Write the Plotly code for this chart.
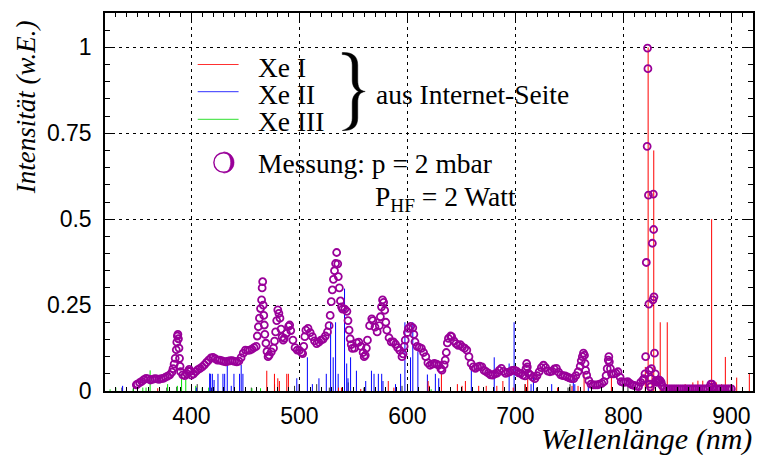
import plotly.graph_objects as go

# ---------------- data ----------------
xe1_nm = [368.8, 469.8, 476.9, 480.0, 481.5, 488.3, 489.8, 500.0, 536.2, 539.0, 556.8, 582.3, 587.5,
          619.2, 620.4, 631.5, 646.3, 650.6, 653.7, 666.0, 673.0, 682.8, 688.4, 698.0, 709.3, 711.4,
          739.0, 752.4, 758.0, 763.6, 788.9, 820.3, 822.9, 826.5, 828.1, 834.1, 840.6, 847.7, 857.2,
          864.3, 869.0, 873.5, 881.7, 886.0, 891.0, 894.4, 899.6, 904.9, 916.6]
xe1_int = [0.008, 0.059, 0.05, 0.037, 0.029, 0.05, 0.05, 0.02, 0.01, 0.01, 0.006, 0.029, 0.01,
           0.029, 0.015, 0.05, 0.02, 0.015, 0.029, 0.015, 0.015, 0.015, 0.029, 0.01, 0.02, 0.037,
           0.01, 0.015, 0.015, 0.05, 0.045, 0.07, 1.0, 0.05, 0.70, 0.2, 0.2, 0.015, 0.02,
           0.025, 0.03, 0.03, 0.5, 0.025, 0.02, 0.099, 0.02, 0.039, 0.051]

xe2_nm = [336.3, 404.6, 416.9, 417.8, 419.4, 421.0, 424.6, 429.2, 430.8, 433.2, 436.9, 439.4, 444.6,
          446.1, 447.7, 497.6, 499.7, 507.4, 512.0, 518.1, 524.9, 528.9, 531.3, 533.5, 535.9, 541.8,
          543.8, 545.0, 547.4, 552.8, 561.4, 566.7, 569.1, 573.1, 576.2, 577.4, 589.0, 593.7, 597.7,
          602.9, 605.0, 609.7, 618.5, 625.9, 629.0, 659.2, 680.4, 694.2, 698.8, 714.5, 716.7, 733.6,
          753.6, 755.0, 767.5]
xe2_int = [0.015, 0.01, 0.051, 0.05, 0.05, 0.032, 0.05, 0.05, 0.05, 0.098, 0.015, 0.05, 0.05,
           0.076, 0.05, 0.037, 0.02, 0.098, 0.02, 0.037, 0.05, 0.2, 0.098, 0.2, 0.05, 0.298,
           0.08, 0.037, 0.098, 0.059, 0.029, 0.059, 0.05, 0.05, 0.05, 0.029, 0.02, 0.05, 0.2,
           0.098, 0.2, 0.115, 0.048, 0.05, 0.037, 0.07, 0.098, 0.08, 0.2, 0.02, 0.048, 0.02,
           0.037, 0.02, 0.015]

xe3_nm = [324.7, 330.0, 346.0, 355.0, 358.0, 361.8, 378.0, 387.0, 390.9, 394.8, 404.0, 410.0, 416.0,
          456.0, 464.0, 620.5, 622.0]
xe3_int = [0.005, 0.01, 0.007, 0.01, 0.01, 0.06, 0.02, 0.015, 0.044, 0.032, 0.015, 0.01, 0.01,
           0.008, 0.008, 0.005, 0.005]

other_nm = [335.6, 346.4, 377.2, 386.4, 405.4, 418.6, 455.5, 477.0, 495.5, 516.0, 527.7, 545.2,
            559.8, 595.0, 708.8, 719.5, 748.7, 750.6, 799.6, 804.2, 848.8]
other_int = [0.01, 0.01, 0.01, 0.012, 0.02, 0.01, 0.01, 0.02, 0.015, 0.02, 0.01, 0.025,
             0.01, 0.015, 0.02, 0.01, 0.01, 0.02, 0.02, 0.015, 0.005]

meas_nm = [349, 350, 352, 354, 356, 358, 360, 362, 364, 366, 368, 370, 372, 374, 376, 378, 380, 382,
           383, 384, 385, 386, 386.5, 387, 387.5, 388, 388.5, 389, 389.5, 390, 392, 394, 396, 397, 398,
           399, 400, 402, 404, 406, 408, 410, 412, 414, 416, 418, 420, 422, 424, 426, 428, 430, 432,
           434, 436, 438, 440, 442, 444, 446, 448, 450, 452, 454, 456, 458, 460, 461, 462, 463, 464,
           465, 465.5, 466, 466.5, 467, 467.5, 468, 469, 470, 471, 472, 474, 476, 477, 478, 479, 480,
           481, 482, 483, 484, 485, 486, 488, 490, 491, 492, 494, 496, 498, 500, 502, 503, 504, 505,
           506, 508, 510, 512, 514, 516, 518, 520, 522, 524, 526, 527.5, 528.5, 529.5, 530.5, 531.5,
           532.5, 533.5, 534.5, 535.5, 536, 537, 538, 539, 540, 542, 544, 545, 546, 547, 548, 549,
           551, 553, 555, 557, 559, 560, 561, 562, 563, 565, 567, 568, 570, 572, 574, 575, 576, 577,
           578, 579, 580, 581, 583, 585, 587, 589, 591, 593, 595, 596, 597, 598, 600, 601, 603, 605,
           606, 607, 609, 611, 613, 615, 617, 619, 621, 623, 625, 627, 629, 631, 632, 634, 635, 636,
           637, 638, 640, 641, 643, 645, 647, 649, 651, 653, 655, 657, 659, 661, 663, 665, 667, 669,
           671, 673, 675, 677, 679, 681, 683, 685, 687, 689, 691, 693, 695, 697, 699, 701, 703, 705,
           707, 709, 709.8, 710.4, 711, 712, 714, 716, 718, 720, 722, 724, 726, 728, 730, 732, 734,
           736, 738, 740, 742, 744, 746, 748, 750, 752, 754, 756, 758, 760, 761, 762, 763, 764, 764.5,
           765, 766, 768, 770, 772, 774, 776, 778, 780, 782, 784, 785, 786, 786.5, 787, 788, 789, 791,
           793, 795, 797, 798, 800, 802, 804, 806, 808, 810, 812, 814, 816, 818, 819, 820, 820.6,
           821.2, 822, 822.3, 822.7, 823.2, 823.6, 824, 824.5, 825, 825.5, 826, 826.8, 827.3, 827.7,
           828, 828.3, 828.8, 829.5, 830, 831, 832, 833, 834, 835, 836, 838, 840, 842, 844, 846, 848,
           850, 852, 854, 856, 858, 860, 862, 864, 866, 868, 870, 872, 874, 876, 878, 880, 881, 882,
           883, 884, 886, 888, 890, 892, 894, 896, 898, 900]
meas_int = [0.018, 0.02, 0.024, 0.028, 0.033, 0.037, 0.035, 0.032, 0.034, 0.036, 0.035, 0.034, 0.036,
            0.037, 0.04, 0.043, 0.047, 0.055,
            0.065, 0.078, 0.095, 0.12, 0.142, 0.16, 0.165, 0.152, 0.125, 0.095, 0.072, 0.056, 0.047,
            0.045, 0.05, 0.058, 0.063,
            0.057, 0.046, 0.05, 0.056, 0.062, 0.066, 0.07, 0.076, 0.083, 0.09, 0.096, 0.098, 0.094,
            0.09, 0.09, 0.088, 0.086, 0.085,
            0.087, 0.088, 0.088, 0.086, 0.085, 0.087, 0.097, 0.11, 0.119, 0.118, 0.119, 0.122, 0.126,
            0.13, 0.16, 0.187, 0.212, 0.24,
            0.265, 0.3, 0.318, 0.25, 0.22, 0.192, 0.165, 0.139, 0.115, 0.1, 0.104, 0.114, 0.125,
            0.145, 0.172, 0.205, 0.236,
            0.226, 0.212, 0.18, 0.157, 0.148, 0.153, 0.168, 0.188, 0.192, 0.176, 0.148, 0.126, 0.119,
            0.118, 0.112, 0.109, 0.13, 0.158,
            0.177, 0.182, 0.17, 0.158, 0.146, 0.138, 0.142, 0.148, 0.151, 0.16, 0.172, 0.19, 0.22,
            0.26, 0.294, 0.325,
            0.35, 0.371, 0.403, 0.37, 0.333, 0.3, 0.262, 0.245, 0.238, 0.238, 0.232, 0.205, 0.177,
            0.152, 0.135, 0.124,
            0.125, 0.14, 0.142, 0.13, 0.112, 0.1, 0.104, 0.125, 0.148, 0.19, 0.21, 0.205, 0.186,
            0.172, 0.19, 0.216, 0.245, 0.265,
            0.258, 0.235, 0.2, 0.177, 0.155, 0.143, 0.143, 0.136, 0.126, 0.118, 0.1, 0.108, 0.13,
            0.148, 0.17, 0.182, 0.188, 0.184,
            0.165, 0.143, 0.13, 0.127, 0.124, 0.112, 0.1, 0.082, 0.075, 0.078, 0.08, 0.078, 0.075,
            0.065, 0.061, 0.076, 0.09, 0.112,
            0.14, 0.153, 0.16, 0.158, 0.146, 0.138, 0.133, 0.135, 0.128, 0.125, 0.119, 0.1, 0.08,
            0.07, 0.066, 0.07, 0.072, 0.07,
            0.06, 0.056, 0.052, 0.047, 0.046, 0.05, 0.052, 0.06, 0.066, 0.057, 0.051, 0.054, 0.056,
            0.06, 0.061, 0.058, 0.053, 0.051,
            0.046, 0.044, 0.065, 0.08, 0.07, 0.052, 0.046, 0.04, 0.036, 0.045, 0.056, 0.068, 0.075,
            0.068, 0.058, 0.056, 0.058,
            0.064, 0.066, 0.055, 0.047, 0.045, 0.044, 0.041, 0.038, 0.036, 0.036, 0.045, 0.056, 0.072,
            0.088, 0.1, 0.11, 0.104, 0.08,
            0.06, 0.046, 0.03, 0.02, 0.018, 0.018, 0.018, 0.02, 0.022, 0.027, 0.045, 0.065, 0.09, 0.1,
            0.085, 0.065, 0.05, 0.05,
            0.052, 0.056, 0.04, 0.027, 0.025, 0.026, 0.027, 0.022, 0.018, 0.016, 0.014, 0.013, 0.025,
            0.032, 0.036, 0.05, 0.1,
            0.374, 0.712, 0.998, 0.938, 0.57, 0.253, 0.06, 0.02, 0.012, 0.036, 0.065, 0.43, 0.265,
            0.573,
            0.47, 0.274, 0.11, 0.05, 0.03, 0.025, 0.03, 0.032, 0.03, 0.025, 0.015, 0.008, 0.006,
            0.006, 0.006, 0.006, 0.006,
            0.006, 0.006, 0.006, 0.006, 0.006, 0.006, 0.006, 0.006, 0.006, 0.006, 0.006, 0.006, 0.006,
            0.006, 0.006, 0.012, 0.02, 0.02,
            0.012, 0.006, 0.006, 0.006, 0.006, 0.006, 0.006, 0.006, 0.006, 0.006]

x_ticks = [400, 500, 600, 700, 800, 900]
x_ticktext = ["400", "500", "600", "700", "800", "900"]
y_ticks = [0, 0.25, 0.5, 0.75, 1]
y_ticktext = ["0", "0.25", "0.5", "0.75", "1"]

# ---------------- helpers ----------------
L, R, T, B = 105, 2, 13, 64
W, H = 757, 455
PW, PH = W - L - R, H - T - B
PURPLE = "#990099"


def px(x):
    return (x - L) / PW


def py(y):
    return (H - B - y) / PH


def P(x, y):
    return f"{px(x):.5f},{py(y):.5f}"


def sticks(nm, h):
    xs, ys = [], []
    for a, b in zip(nm, h):
        xs += [a, a, None]
        ys += [0, b, None]
    return xs, ys


fig = go.Figure()
for nm, h, col in [(other_nm, other_int, "#303030"), (xe3_nm, xe3_int, "#00e000"),
                   (xe2_nm, xe2_int, "#0000ff"), (xe1_nm, xe1_int, "#ff0000")]:
    xs, ys = sticks(nm, h)
    fig.add_trace(go.Scatter(x=xs, y=ys, mode="lines", line=dict(color=col, width=1),
                             showlegend=False, hoverinfo="skip"))

fig.add_trace(go.Scatter(x=meas_nm, y=meas_int, mode="markers",
                         marker=dict(symbol="circle-open", size=7, color=PURPLE,
                                     line=dict(width=1.8, color=PURPLE)),
                         showlegend=False))

serif = "Liberation Serif"
shapes = []
# white panels behind the legend (hide vertical grid lines)
shapes.append(dict(type="rect", xref="paper", yref="paper", layer="between",
                   x0=px(195), x1=px(600), y0=py(132.5), y1=py(48.5),
                   fillcolor="white", line=dict(width=0)))
shapes.append(dict(type="rect", xref="paper", yref="paper", layer="between",
                   x0=px(195), x1=px(600), y0=py(218.5), y1=py(145),
                   fillcolor="white", line=dict(width=0)))
# legend line samples
for yy, col in [(64.5, "#ff3030"), (91.7, "#3030ff"), (119.3, "#30e030")]:
    shapes.append(dict(type="line", xref="paper", yref="paper", x0=px(198), x1=px(239),
                       y0=py(yy), y1=py(yy), line=dict(color=col, width=1)))

# curly brace
brace = ("M " + P(343, 52.5) +
         " C " + P(353, 52) + " " + P(358.5, 56) + " " + P(358.5, 65) +
         " L " + P(358.5, 80) +
         " C " + P(358.5, 87.5) + " " + P(360.5, 90.5) + " " + P(366, 91.5) +
         " C " + P(360.5, 92.5) + " " + P(358.5, 95.5) + " " + P(358.5, 103) +
         " L " + P(358.5, 118) +
         " C " + P(358.5, 127) + " " + P(353, 131) + " " + P(343, 130.5) +
         " C " + P(349.5, 128.5) + " " + P(353, 125) + " " + P(353, 118) +
         " L " + P(353, 103) +
         " C " + P(353, 97) + " " + P(355.5, 93.5) + " " + P(359.5, 91.5) +
         " C " + P(355.5, 89.5) + " " + P(353, 86) + " " + P(353, 80) +
         " L " + P(353, 65) +
         " C " + P(353, 58) + " " + P(349.5, 54.5) + " " + P(343, 54.5) + " Z")
shapes.append(dict(type="path", xref="paper", yref="paper", path=brace,
                   fillcolor="black", line=dict(width=0.5, color="black")))

# shadowed open circle symbol for "Messung"
cx, cy, r = 224, 162.5, 10.5
k = 0.5523
shapes.append(dict(type="circle", xref="paper", yref="paper",
                   x0=px(cx - r + 0.7), x1=px(cx + r - 0.7), y0=py(cy + r - 0.7), y1=py(cy - r + 0.7),
                   line=dict(color=PURPLE, width=1.4), fillcolor="rgba(0,0,0,0)"))
ri = 7
crescent = ("M " + P(cx, cy - r) +
            " C " + P(cx + k * r, cy - r) + " " + P(cx + r, cy - k * r) + " " + P(cx + r, cy) +
            " C " + P(cx + r, cy + k * r) + " " + P(cx + k * r, cy + r) + " " + P(cx, cy + r) +
            " C " + P(cx + k * ri, cy + r) + " " + P(cx + ri, cy + k * r) + " " + P(cx + ri, cy) +
            " C " + P(cx + ri, cy - k * r) + " " + P(cx + k * ri, cy - r) + " " + P(cx, cy - r) + " Z")
shapes.append(dict(type="path", xref="paper", yref="paper", path=crescent,
                   fillcolor=PURPLE, line=dict(width=0.5, color=PURPLE)))

ann = []


def text(x, y, s, size=27.5, anchor="left"):
    ann.append(dict(x=px(x), y=py(y), xref="paper", yref="paper", text=s, showarrow=False,
                    xanchor=anchor, yanchor="middle",
                    font=dict(family=serif, size=size, color="black")))


text(256, 67, "Xe I")
text(256, 94, "Xe II")
text(256, 121, "Xe III")
text(375, 94, "aus Internet-Seite")
text(256, 163, "Messung: p = 2 mbar")
text(374, 198, "P<sub>HF</sub> = 2 Watt")
# axis titles
ann.append(dict(x=px(756), y=py(439), xref="paper", yref="paper", text="<i>Wellenlänge (nm)</i>",
                showarrow=False, xanchor="right", yanchor="middle",
                font=dict(family=serif, size=30, color="black")))
ann.append(dict(x=px(26), y=py(107), xref="paper", yref="paper", text="<i>Intensität (w.E.)</i>",
                showarrow=False, xanchor="center", yanchor="middle", textangle=-90,
                font=dict(family=serif, size=27, color="black")))

axis_common = dict(showline=True, linecolor="black", linewidth=1.5, mirror="allticks",
                   ticks="inside", tickcolor="black", tickwidth=1, showgrid=True,
                   gridcolor="black", gridwidth=1, griddash="3px,4px", zeroline=False,
                   tickfont=dict(family="Liberation Sans", size=23, color="black"))

fig.update_layout(
    width=W, height=H, margin=dict(l=L, r=R, t=T, b=B),
    paper_bgcolor="white", plot_bgcolor="white",
    xaxis=dict(range=[320, 920], tickmode="array", tickvals=x_ticks, ticktext=x_ticktext,
               ticklen=7, ticklabelstandoff=4,
               minor=dict(tickmode="linear", tick0=0, dtick=10, ticks="inside", ticklen=4,
                          tickcolor="black", showgrid=False),
               **axis_common),
    yaxis=dict(range=[0, 1.1], tickmode="array", tickvals=y_ticks, ticktext=y_ticktext,
               ticklen=9, ticklabelstandoff=7,
               minor=dict(tickmode="linear", tick0=0, dtick=0.05, ticks="inside", ticklen=5,
                          tickcolor="black", showgrid=False),
               **axis_common),
    shapes=shapes, annotations=ann, showlegend=False,
)

fig.write_html("out.html")
